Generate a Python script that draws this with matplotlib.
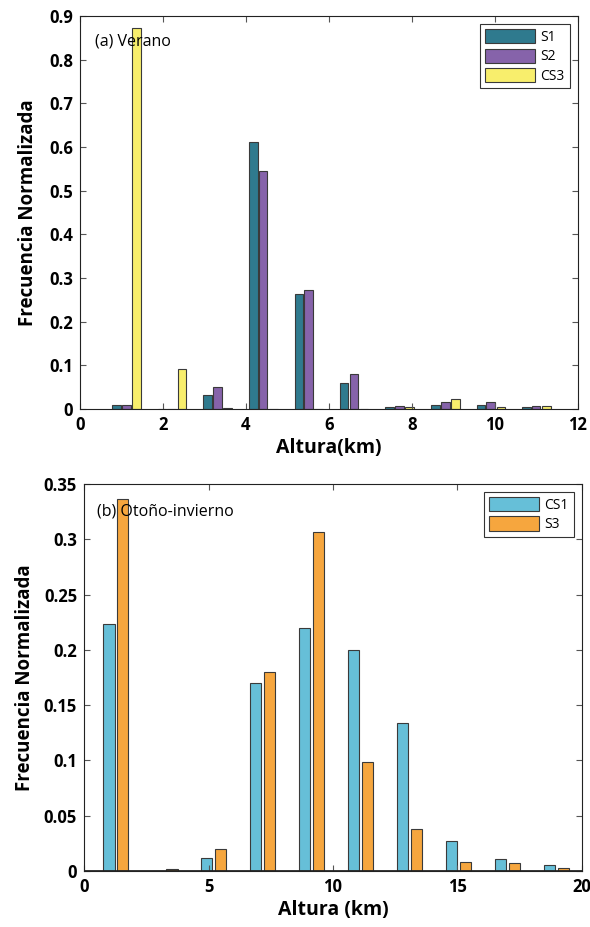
import numpy as np
import matplotlib.pyplot as plt

plt.rcParams['font.family'] = ['Open Sans', 'DejaVu Sans']

# (a) Verano
alturas_a = [1.12, 2.21, 3.31, 4.41, 5.51, 6.60, 7.70, 8.80, 9.90, 10.99]
s1 = [0.010, 0.0, 0.032, 0.611, 0.263, 0.060, 0.004, 0.010, 0.008, 0.004]
s2 = [0.010, 0.0, 0.050, 0.545, 0.272, 0.080, 0.007, 0.017, 0.015, 0.006]
cs3 = [0.873, 0.092, 0.002, 0.0, 0.0, 0.0, 0.004, 0.022, 0.005, 0.006]

# (b) Otoño-invierno
alturas_b = [1.00, 2.97, 4.93, 6.89, 8.86, 10.83, 12.79, 14.76, 16.72, 18.69]
cs1 = [0.223, 0.0, 0.012, 0.170, 0.220, 0.200, 0.134, 0.027, 0.011, 0.0055]
s3 = [0.336, 0.002, 0.020, 0.180, 0.307, 0.099, 0.038, 0.0085, 0.007, 0.003]

fig = plt.figure(figsize=(5.9, 9.27), dpi=100)
ax1 = fig.add_axes([0.1356, 0.5588, 0.844, 0.4239])
ax2 = fig.add_axes([0.1424, 0.0604, 0.844, 0.4175])

edge = '#3a3a3a'
xa = np.array(alturas_a)
ax1.bar(xa - 0.235, s1, width=0.21, color='#2f7a8e', edgecolor=edge, lw=0.8, label='S1')
ax1.bar(xa, s2, width=0.21, color='#8663aa', edgecolor=edge, lw=0.8, label='S2')
ax1.bar(xa + 0.245, cs3, width=0.21, color='#f8ee6c', edgecolor=edge, lw=0.8, label='CS3')

xb = np.array(alturas_b)
ax2.bar(xb, cs1, width=0.45, color='#66bfd8', edgecolor=edge, lw=0.8, label='CS1')
ax2.bar(xb + 0.56, s3, width=0.45, color='#f6a63e', edgecolor=edge, lw=0.8, label='S3')
ax2.axhline(0, color='#222222', lw=2, zorder=5)

ax1.set_xlim(0, 12)
ax1.set_ylim(0, 0.9)
ax1.set_xticks(range(0, 13, 2))
ax1.set_yticks(np.arange(0, 0.91, 0.1))
ax1.set_yticklabels(['0', '0.1', '0.2', '0.3', '0.4', '0.5', '0.6', '0.7', '0.8', '0.9'])
ax1.set_xlabel('Altura(km)', fontsize=14, fontweight='bold', labelpad=3)
ax1.set_ylabel('Frecuencia Normalizada', fontsize=13.5, fontweight='bold', labelpad=8)
ax1.text(0.03, 0.935, '(a) Verano', transform=ax1.transAxes, fontsize=11.5, va='center')

ax2.set_xlim(0, 20)
ax2.set_ylim(0, 0.35)
ax2.set_xticks(range(0, 21, 5))
ax2.set_yticks(np.arange(0, 0.351, 0.05))
ax2.set_yticklabels(['0', '0.05', '0.1', '0.15', '0.2', '0.25', '0.3', '0.35'])
ax2.set_xlabel('Altura (km)', fontsize=14, fontweight='bold', labelpad=3)
ax2.set_ylabel('Frecuencia Normalizada', fontsize=13.5, fontweight='bold', labelpad=6)
ax2.text(0.026, 0.93, '(b) Otoño-invierno', transform=ax2.transAxes, fontsize=11.5, va='center')

for ax in (ax1, ax2):
    ax.tick_params(direction='in', top=True, right=True, length=4, color='#555555',
                   labelsize=12, pad=5)
    for lab in ax.get_xticklabels() + ax.get_yticklabels():
        lab.set_fontweight('bold')
    for sp in ax.spines.values():
        sp.set_color('#222222')
        sp.set_linewidth(0.8)
    leg = ax.legend(loc='upper right', fontsize=10, fancybox=False, edgecolor='black',
                    handlelength=3.6, handleheight=1.2, borderaxespad=0.6,
                    labelspacing=0.25, handletextpad=0.4, borderpad=0.35)
    leg.get_frame().set_linewidth(0.8)

fig.savefig('out.png', dpi=100)
